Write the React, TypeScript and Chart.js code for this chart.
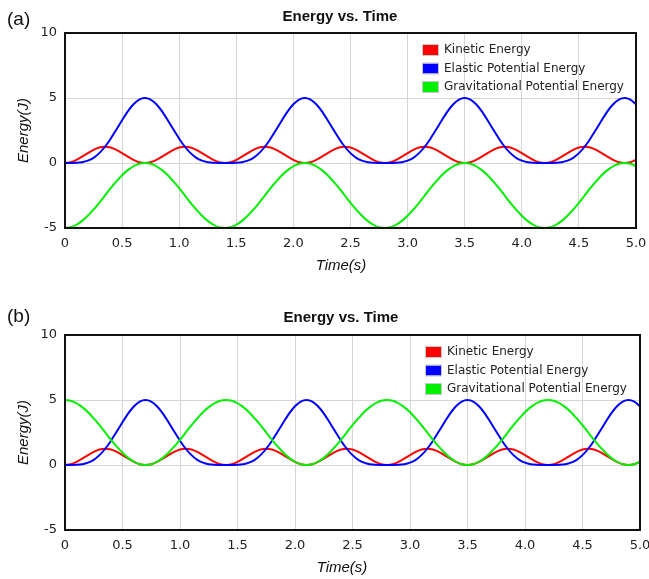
import React, { useEffect, useRef } from "react";
import { Chart, registerables } from "chart.js";
Chart.register(...registerables);

// ---- data ----
const timeValues = [
  0, 0.05, 0.1, 0.15, 0.2, 0.25, 0.3, 0.35, 0.4, 0.45, 0.5, 0.55, 0.6, 0.65, 0.7, 0.75, 0.8, 0.85, 0.9, 0.95,
  1, 1.05, 1.1, 1.15, 1.2, 1.25, 1.3, 1.35, 1.4, 1.45, 1.5, 1.55, 1.6, 1.65, 1.7, 1.75, 1.8, 1.85, 1.9, 1.95,
  2, 2.05, 2.1, 2.15, 2.2, 2.25, 2.3, 2.35, 2.4, 2.45, 2.5, 2.55, 2.6, 2.65, 2.7, 2.75, 2.8, 2.85, 2.9, 2.95,
  3, 3.05, 3.1, 3.15, 3.2, 3.25, 3.3, 3.35, 3.4, 3.45, 3.5, 3.55, 3.6, 3.65, 3.7, 3.75, 3.8, 3.85, 3.9, 3.95,
  4, 4.05, 4.1, 4.15, 4.2, 4.25, 4.3, 4.35, 4.4, 4.45, 4.5, 4.55, 4.6, 4.65, 4.7, 4.75, 4.8, 4.85, 4.9, 4.95,
  5,
];

const kineticValues = [
  0, 0.06, 0.24, 0.49, 0.76, 1.01, 1.19, 1.25, 1.19, 1.01, 0.76, 0.49, 0.24, 0.06,
  0, 0.06, 0.24, 0.49, 0.76, 1.01, 1.19, 1.25, 1.19, 1.01, 0.76, 0.49, 0.24, 0.06,
  0, 0.06, 0.24, 0.49, 0.76, 1.01, 1.19, 1.25, 1.19, 1.01, 0.76, 0.49, 0.24, 0.06,
  0, 0.06, 0.24, 0.49, 0.76, 1.01, 1.19, 1.25, 1.19, 1.01, 0.76, 0.49, 0.24, 0.06,
  0, 0.06, 0.24, 0.49, 0.76, 1.01, 1.19, 1.25, 1.19, 1.01, 0.76, 0.49, 0.24, 0.06,
  0, 0.06, 0.24, 0.49, 0.76, 1.01, 1.19, 1.25, 1.19, 1.01, 0.76, 0.49, 0.24, 0.06,
  0, 0.06, 0.24, 0.49, 0.76, 1.01, 1.19, 1.25, 1.19, 1.01, 0.76, 0.49, 0.24, 0.06,
  0, 0.06, 0.24,
];

const elasticValues = [
  0, 0, 0.01, 0.06, 0.18, 0.4, 0.76, 1.25, 1.87, 2.57, 3.29, 3.97, 4.52, 4.88,
  5, 4.88, 4.52, 3.97, 3.29, 2.57, 1.87, 1.25, 0.76, 0.4, 0.18, 0.06, 0.01, 0,
  0, 0, 0.01, 0.06, 0.18, 0.4, 0.76, 1.25, 1.87, 2.57, 3.29, 3.97, 4.52, 4.88,
  5, 4.88, 4.52, 3.97, 3.29, 2.57, 1.87, 1.25, 0.76, 0.4, 0.18, 0.06, 0.01, 0,
  0, 0, 0.01, 0.06, 0.18, 0.4, 0.76, 1.25, 1.87, 2.57, 3.29, 3.97, 4.52, 4.88,
  5, 4.88, 4.52, 3.97, 3.29, 2.57, 1.87, 1.25, 0.76, 0.4, 0.18, 0.06, 0.01, 0,
  0, 0, 0.01, 0.06, 0.18, 0.4, 0.76, 1.25, 1.87, 2.57, 3.29, 3.97, 4.52, 4.88,
  5, 4.88, 4.52,
];

const gravitationalValuesA = [
  -5, -4.94, -4.75, -4.45, -4.06, -3.58, -3.06, -2.5, -1.94, -1.42, -0.94, -0.55, -0.25, -0.06,
  0, -0.06, -0.25, -0.55, -0.94, -1.42, -1.94, -2.5, -3.06, -3.58, -4.06, -4.45, -4.75, -4.94,
  -5, -4.94, -4.75, -4.45, -4.06, -3.58, -3.06, -2.5, -1.94, -1.42, -0.94, -0.55, -0.25, -0.06,
  0, -0.06, -0.25, -0.55, -0.94, -1.42, -1.94, -2.5, -3.06, -3.58, -4.06, -4.45, -4.75, -4.94,
  -5, -4.94, -4.75, -4.45, -4.06, -3.58, -3.06, -2.5, -1.94, -1.42, -0.94, -0.55, -0.25, -0.06,
  0, -0.06, -0.25, -0.55, -0.94, -1.42, -1.94, -2.5, -3.06, -3.58, -4.06, -4.45, -4.75, -4.94,
  -5, -4.94, -4.75, -4.45, -4.06, -3.58, -3.06, -2.5, -1.94, -1.42, -0.94, -0.55, -0.25, -0.06,
  0, -0.06, -0.25,
];

const gravitationalValuesB = [
  5, 4.94, 4.75, 4.45, 4.06, 3.58, 3.06, 2.5, 1.94, 1.42, 0.94, 0.55, 0.25, 0.06,
  0, 0.06, 0.25, 0.55, 0.94, 1.42, 1.94, 2.5, 3.06, 3.58, 4.06, 4.45, 4.75, 4.94,
  5, 4.94, 4.75, 4.45, 4.06, 3.58, 3.06, 2.5, 1.94, 1.42, 0.94, 0.55, 0.25, 0.06,
  0, 0.06, 0.25, 0.55, 0.94, 1.42, 1.94, 2.5, 3.06, 3.58, 4.06, 4.45, 4.75, 4.94,
  5, 4.94, 4.75, 4.45, 4.06, 3.58, 3.06, 2.5, 1.94, 1.42, 0.94, 0.55, 0.25, 0.06,
  0, 0.06, 0.25, 0.55, 0.94, 1.42, 1.94, 2.5, 3.06, 3.58, 4.06, 4.45, 4.75, 4.94,
  5, 4.94, 4.75, 4.45, 4.06, 3.58, 3.06, 2.5, 1.94, 1.42, 0.94, 0.55, 0.25, 0.06,
  0, 0.06, 0.25,
];

const xTickLabels = ["0", "0.5", "1.0", "1.5", "2.0", "2.5", "3.0", "3.5", "4.0", "4.5", "5.0"];
const yTickValues = [-5, 0, 5, 10];
const seriesLabels = ["Kinetic Energy", "Elastic Potential Energy", "Gravitational Potential Energy"];
const seriesColors = ["#ff0000", "#0000ff", "#00f000"];
const chartTitle = "Energy vs. Time";
const panelLabels = ["(a)", "(b)"];
const xAxisTitle = "Time(s)";
const yAxisTitle = "Energy(J)";

type PanelCfg = {
  top: number;
  height: number;
  plotRight: number;
  legendX: number;
  titleX: number;
  titleY: number;
  panelY: number;
  xTitleX: number;
  gravitational: number[];
  label: string;
};

const panels: PanelCfg[] = [
  { top: 0, height: 290, plotRight: 636, legendX: 423, titleX: 340, titleY: 17, panelY: 20, xTitleX: 341, gravitational: gravitationalValuesA, label: panelLabels[0] },
  { top: 302, height: 277, plotRight: 640, legendX: 426, titleX: 341, titleY: 16, panelY: 15, xTitleX: 342, gravitational: gravitationalValuesB, label: panelLabels[1] },
];

function toPoints(values: number[]) {
  return values.map((v, i) => ({ x: timeValues[i], y: v }));
}

function makeOverlay(cfg: PanelCfg) {
  return {
    id: "overlay",
    afterDraw(chart: any) {
      const { ctx, chartArea: a } = chart;
      ctx.save();
      // plot frame
      ctx.strokeStyle = "#111";
      ctx.lineWidth = 2;
      ctx.strokeRect(a.left, a.top, a.right - a.left, a.bottom - a.top);
      // title
      ctx.fillStyle = "#111";
      ctx.textBaseline = "middle";
      ctx.textAlign = "center";
      ctx.font = 'bold 15px "Liberation Sans", Arial, sans-serif';
      ctx.fillText(chartTitle, cfg.titleX, cfg.titleY);
      // panel label
      ctx.textAlign = "left";
      ctx.font = '19px "Liberation Sans", Arial, sans-serif';
      ctx.fillText(cfg.label, 7, cfg.panelY);
      // axis titles
      ctx.textAlign = "center";
      ctx.font = 'italic 15px "Liberation Sans", Arial, sans-serif';
      ctx.fillText(xAxisTitle, cfg.xTitleX, 266);
      ctx.save();
      ctx.translate(24, (a.top + a.bottom) / 2);
      ctx.rotate(-Math.PI / 2);
      ctx.fillText(yAxisTitle, 0, 0);
      ctx.restore();
      // legend
      ctx.font = '12px "DejaVu Sans", sans-serif';
      ctx.textAlign = "left";
      chart.data.datasets.forEach((ds: any, i: number) => {
        const cy = 50 + i * 18.5;
        ctx.fillStyle = ds.borderColor;
        ctx.fillRect(cfg.legendX, cy - 5, 15, 10);
        ctx.strokeStyle = "#c8c8c8";
        ctx.lineWidth = 1;
        ctx.strokeRect(cfg.legendX - 0.5, cy - 5.5, 16, 11);
        ctx.fillStyle = "#222";
        ctx.fillText(ds.label, cfg.legendX + 21, cy);
      });
      ctx.restore();
    },
  };
}

function Panel({ cfg }: { cfg: PanelCfg }) {
  const ref = useRef<HTMLCanvasElement>(null);
  useEffect(() => {
    if (!ref.current) return;
    const seriesValues = [kineticValues, elasticValues, cfg.gravitational];
    const chart = new Chart(ref.current, {
      type: "line",
      data: {
        datasets: seriesValues.map((vals, i) => ({
          label: seriesLabels[i],
          data: toPoints(vals),
          borderColor: seriesColors[i],
          backgroundColor: seriesColors[i],
          borderWidth: 2,
          pointRadius: 0,
          tension: 0.3,
          fill: false,
          order: 3 - i,
        })),
      },
      options: {
        animation: false,
        responsive: false,
        layout: { padding: { top: 33, right: 649 - cfg.plotRight, left: 0, bottom: 0 } },
        plugins: { legend: { display: false }, title: { display: false }, tooltip: { enabled: false } },
        scales: {
          x: {
            type: "linear",
            min: 0,
            max: 5,
            afterFit: (s: any) => {
              s.height = cfg.height - 228;
              s.paddingLeft = 0;
              s.paddingRight = 0;
            },
            afterBuildTicks: (s: any) => { s.ticks = xTickLabels.map((_, i) => ({ value: i * 0.5 })); },
            ticks: {
              autoSkip: false,
              maxRotation: 0,
              padding: 8,
              color: "#222",
              font: { family: "DejaVu Sans", size: 13 },
              callback: (_v: any, i: number) => xTickLabels[i],
            },
            grid: { color: "#d6d6d6", lineWidth: 1, drawTicks: false },
            border: { display: false },
          },
          y: {
            type: "linear",
            min: -5,
            max: 10,
            afterFit: (s: any) => {
              s.width = 65;
              s.paddingTop = 0;
              s.paddingBottom = 0;
            },
            afterBuildTicks: (s: any) => { s.ticks = yTickValues.map((v) => ({ value: v })); },
            ticks: {
              padding: 8,
              color: "#222",
              font: { family: "DejaVu Sans", size: 13 },
              callback: (v: any) => String(v),
            },
            grid: { color: "#d6d6d6", lineWidth: 1, drawTicks: false },
            border: { display: false },
          },
        },
      },
      plugins: [makeOverlay(cfg)],
    } as any);
    return () => chart.destroy();
  }, [cfg]);
  return (
    <canvas
      ref={ref}
      width={649}
      height={cfg.height}
      style={{ position: "absolute", left: 0, top: cfg.top, width: 649, height: cfg.height, display: "block" }}
    />
  );
}

export default function App() {
  return (
    <div style={{ position: "fixed", left: 0, top: 0, width: 649, height: 579, overflow: "hidden", background: "#fff" }}>
      {panels.map((p) => (
        <Panel key={p.label} cfg={p} />
      ))}
    </div>
  );
}
